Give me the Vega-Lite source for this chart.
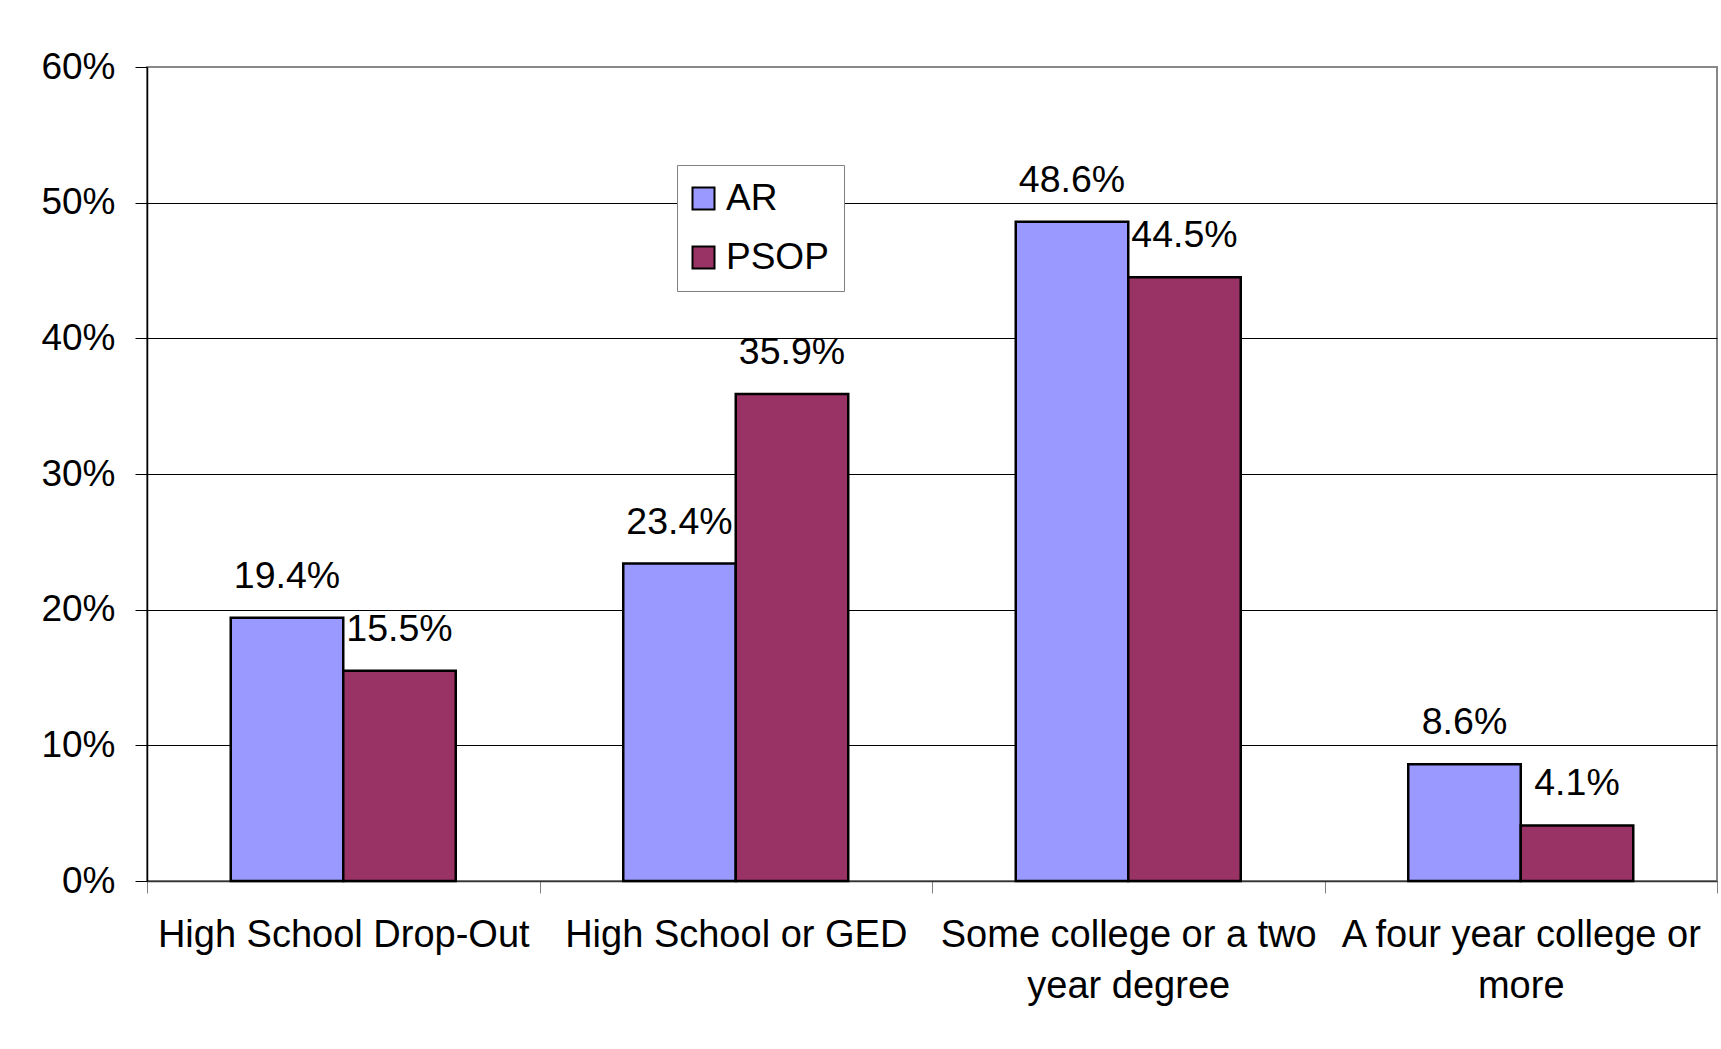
{
  "$schema": "https://vega.github.io/schema/vega-lite/v6.json",
  "width": 1570,
  "height": 814,
  "autosize": {"type": "none"},
  "padding": {"left": 147, "top": 67, "right": 4, "bottom": 168},
  "background": "white",
  "config": {
    "font": "Liberation Sans",
    "view": {"stroke": "#888888", "strokeWidth": 2}
  },
  "data": {
    "values": [
      {"category": "High School Drop-Out", "group": "AR", "value": 0.194},
      {"category": "High School Drop-Out", "group": "PSOP", "value": 0.155},
      {"category": "High School or GED", "group": "AR", "value": 0.234},
      {"category": "High School or GED", "group": "PSOP", "value": 0.359},
      {"category": "Some college or a two year degree", "group": "AR", "value": 0.486},
      {"category": "Some college or a two year degree", "group": "PSOP", "value": 0.445},
      {"category": "A four year college or more", "group": "AR", "value": 0.086},
      {"category": "A four year college or more", "group": "PSOP", "value": 0.041}
    ]
  },
  "encoding": {
    "x": {
      "field": "category",
      "type": "nominal",
      "sort": ["High School Drop-Out", "High School or GED", "Some college or a two year degree", "A four year college or more"],
      "scale": {"paddingInner": 0, "paddingOuter": 0},
      "axis": {
        "title": null,
        "labelAngle": 0,
        "tickBand": "extent",
        "tickSize": 12,
        "tickColor": "#808080",
        "domainColor": "#333333",
        "domainWidth": 1.5,
        "labelFontSize": 38,
        "labelColor": "black",
        "labelPadding": 23,
        "labelLineHeight": 51,
        "labelBaseline": "top",
        "labelLimit": 600,
        "grid": false,
        "labelExpr": "datum.label == 'Some college or a two year degree' ? ['Some college or a two', 'year degree'] : datum.label == 'A four year college or more' ? ['A four year college or', 'more'] : datum.label"
      }
    },
    "xOffset": {
      "field": "group",
      "type": "nominal",
      "sort": ["AR", "PSOP"],
      "scale": {"paddingInner": 0, "paddingOuter": 0.7444}
    },
    "y": {
      "field": "value",
      "type": "quantitative",
      "scale": {"domain": [0, 0.6], "nice": false},
      "axis": {
        "title": null,
        "values": [0, 0.1, 0.2, 0.3, 0.4, 0.5, 0.6],
        "format": ".0%",
        "labelFontSize": 37,
        "labelColor": "black",
        "labelPadding": 20,
        "tickSize": 12,
        "tickColor": "black",
        "domainColor": "black",
        "domainWidth": 1.5,
        "gridColor": {"condition": {"test": "datum.value >= 0.6 || datum.value <= 0", "value": "#888888"}, "value": "black"},
        "gridWidth": 1
      }
    }
  },
  "layer": [
    {
      "mark": {"type": "bar", "stroke": "black", "strokeWidth": 2.5},
      "encoding": {
        "fill": {
          "field": "group",
          "type": "nominal",
          "scale": {"domain": ["AR", "PSOP"], "range": ["#9999FF", "#993366"]},
          "legend": {
            "title": null,
            "orient": "none",
            "legendX": 530,
            "legendY": 98,
            "direction": "vertical",
            "fillColor": "white",
            "strokeColor": "#808080",
            "padding": 15,
            "symbolType": "square",
            "symbolSize": 484,
            "symbolOffset": -7,
            "symbolStrokeColor": "black",
            "symbolStrokeWidth": 2,
            "symbolOpacity": 1,
            "labelFontSize": 37,
            "labelColor": "black",
            "labelOffset": 4,
            "rowPadding": 21
          }
        }
      }
    },
    {
      "mark": {"type": "text", "baseline": "alphabetic", "dy": -30, "fontSize": 37.5, "color": "black"},
      "encoding": {
        "text": {"field": "value", "type": "quantitative", "format": ".1%"}
      }
    }
  ]
}
